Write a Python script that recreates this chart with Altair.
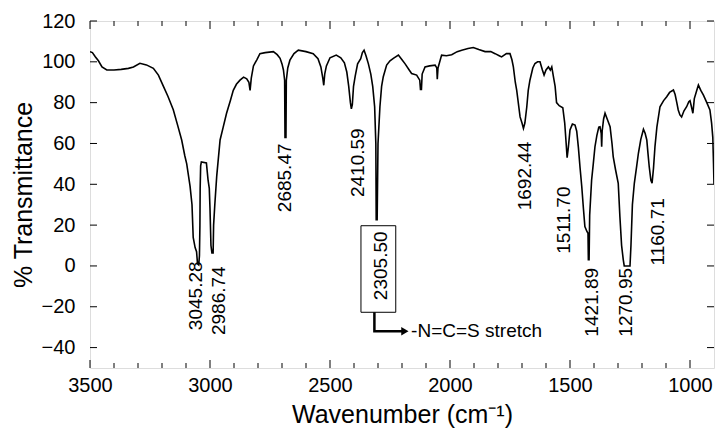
import altair as alt
import pandas as pd

# ---- spectrum ----
wavenumber = [3500, 3490, 3478, 3465, 3450, 3430, 3400, 3370, 3340, 3319, 3292, 3265, 3236, 3215, 3194, 3175,
              3153, 3135, 3118, 3105, 3097, 3083, 3075, 3070, 3062, 3056, 3052, 3047, 3044, 3042, 3041, 3039,
              3036, 3015, 3008, 3003, 3000, 2996, 2992, 2987, 2985, 2980, 2972, 2958, 2945, 2931, 2915, 2903,
              2890, 2875, 2860, 2847, 2838, 2833, 2828, 2819, 2805, 2792, 2770, 2736, 2720, 2708, 2700, 2694,
              2689, 2687.5, 2683.5, 2682, 2676, 2667, 2650, 2632, 2600, 2570, 2550, 2538, 2530, 2526, 2522, 2515,
              2500, 2474, 2455, 2440, 2430, 2422, 2415, 2411, 2407, 2402, 2395, 2385, 2372, 2365, 2358, 2350,
              2340, 2330, 2322, 2314, 2309, 2307.5, 2303.5, 2300, 2292, 2285, 2278, 2264, 2250, 2236, 2215, 2200,
              2187, 2170, 2160, 2139, 2126, 2123, 2119, 2116, 2104, 2085, 2062, 2055, 2053, 2050, 2035, 2015,
              1993, 1970, 1951, 1925, 1903, 1880, 1854, 1830, 1812, 1795, 1785, 1765, 1750, 1742, 1736, 1728,
              1722, 1708, 1700, 1694, 1688, 1680, 1674, 1667, 1655, 1646, 1635, 1625, 1615, 1608, 1600, 1590,
              1582, 1576, 1568, 1562, 1556, 1545, 1530, 1522, 1516, 1512, 1507, 1500, 1490, 1479, 1472, 1465,
              1458, 1451, 1444, 1438, 1430, 1425, 1423.5, 1420.5, 1418, 1410, 1403, 1396, 1388, 1380, 1375, 1370,
              1368, 1366, 1360, 1354, 1345, 1333, 1325, 1320, 1310, 1299, 1292, 1285, 1278, 1274, 1250, 1246,
              1240, 1232, 1222, 1215, 1205, 1194, 1187, 1180, 1175, 1170, 1163, 1158, 1152, 1146, 1138, 1125,
              1110, 1097, 1085, 1069, 1062, 1055, 1049, 1042, 1035, 1025, 1014, 1005, 1000, 994, 988, 982,
              972, 965, 955, 944, 930, 917, 910, 905, 902, 900]
transmittance = [105, 104.5, 102.5, 100.5, 97.5, 96, 96, 96.3, 96.8, 97.5, 99.3, 98.5, 96.8, 93.5, 88, 83,
                 76.5, 69, 61.7, 54, 50, 39, 30, 14, 9, 7, 1, 0.5, 5, 20, 38, 49,
                 51, 50.5, 42, 38, 28, 10, 6.4, 6.4, 20, 30, 44, 61.7, 68, 74.8, 81, 86,
                 89, 91, 92.5, 91.7, 90, 86, 92, 98, 101, 104, 104.5, 105, 103.5, 101.7, 99, 96,
                 91, 63, 63, 91, 97, 100.8, 104, 105.7, 105, 104, 101.5, 97.5, 92, 88.5, 94, 98,
                 102, 103.3, 102, 99.5, 95, 88, 80, 77, 79, 88, 93, 99, 101.5, 104.5, 105.7, 103,
                 99, 94, 88, 78, 60, 22.6, 22.6, 60, 78, 88, 92.7, 98.4, 100.5, 101.7, 103.3, 101,
                 99, 96, 94.3, 93.5, 91, 86.5, 86.5, 94, 97.5, 98, 98.4, 97, 91.5, 97, 103.3, 103,
                 103.5, 105, 105.7, 106.5, 107, 106, 105, 105, 104, 103, 102.4, 104, 104, 101, 97.5, 90,
                 86, 73, 70, 67.4, 70, 78, 86, 91, 97, 99.2, 100, 100, 96, 93.5, 96, 97.5,
                 96, 97.5, 92, 88, 80, 78.5, 77.5, 70, 60, 53, 58, 66.6, 69.5, 69, 66, 58,
                 48, 38.9, 28, 19.3, 17, 16, 3, 3, 25, 42, 50, 58.4, 64, 68, 68.2, 65,
                 58.4, 66, 72, 74.8, 72, 68.2, 60, 53.6, 47, 40.5, 24, 10, 3, 0, 0, 10,
                 30, 40.5, 49, 55.2, 62, 67, 65, 61.7, 55, 48.7, 42, 40.5, 48, 58.4, 68, 78,
                 81, 82.9, 85, 86.2, 84, 80, 76.4, 74, 73, 76, 78, 80.5, 81, 78, 74.8, 82,
                 86, 88.6, 86, 83.7, 80, 76.4, 70, 63, 50, 40]

# ---- peak labels ----
peak_labels = ["3045.28", "2986.74", "2685.47", "2410.59", "1692.44", "1511.70", "1421.89", "1270.95", "1160.71"]
peak_label_wn = [3060, 2964, 2687.5, 2382, 1687.5, 1527, 1407, 1268, 1132]
peak_label_top = [2.2, -0.2, 60, 67.4, 60.9, 38.9, -1, -1, 33.2]

boxed_label = ["2305.50"]
boxed_label_wn = [2285.5]
boxed_label_top = [16.9]
box_wn = [2371, 2226]
box_t = [19.7, -22.7]

arrow_wn = [2315, 2315, 2192]
arrow_t = [-22.7, -32, -32]
arrow_tip_wn = [2188]
note_text = ["-N=C=S stretch"]
note_wn = [2162]
note_t = [-32]

# ---- axis ticks ----
x_tick_labels = [3500, 3000, 2500, 2000, 1500, 1000]
x_minor = [3400, 3300, 3200, 3100, 2900, 2800, 2700, 2600, 2400, 2300, 2200, 2100,
           1900, 1800, 1700, 1600, 1400, 1300, 1200, 1100]
y_tick_labels = [-40, -20, 0, 20, 40, 60, 80, 100, 120]

FONT = "Liberation Sans"
W, H = 624, 347

xs = alt.Scale(domain=[900, 3500], reverse=True, nice=False, zero=False)
ys = alt.Scale(domain=[-50, 120], nice=False, zero=False)

spec_df = pd.DataFrame({"wn": wavenumber, "T": transmittance, "i": range(len(wavenumber))})

curve = alt.Chart(spec_df).mark_line(color="black", strokeWidth=1.6, clip=True).encode(
    x=alt.X("wn:Q", scale=xs,
            axis=alt.Axis(values=x_tick_labels, title="Wavenumber (cm⁻¹)", grid=False, ticks=False,
                          tickSize=0, domain=False, labelFont=FONT, labelFontSize=20, labelColor="black",
                          labelPadding=7, labelFlush=False, labelOverlap=False,
                          titleFont=FONT, titleFontSize=25, titleFontWeight="normal",
                          titleColor="black", titlePadding=7, format="d")),
    y=alt.Y("T:Q", scale=ys,
            axis=alt.Axis(values=y_tick_labels, title="% Transmittance", grid=False, ticks=False,
                          tickSize=0, domain=False, labelFont=FONT, labelFontSize=20, labelColor="black",
                          labelPadding=15, labelFlush=False, labelOverlap=False,
                          titleFont=FONT, titleFontSize=25, titleFontWeight="normal",
                          titleColor="black", titlePadding=5)),
    order="i:Q",
)

xmaj = pd.DataFrame({"v": x_tick_labels})
xmin = pd.DataFrame({"v": x_minor})
ymaj = pd.DataFrame({"v": y_tick_labels})

def xt(df, y0, y1):
    return alt.Chart(df).mark_rule(color="black", strokeWidth=1).encode(
        x=alt.X("v:Q", scale=xs), y=alt.value(y0), y2=alt.value(y1))

def yt(df, x0, x1):
    return alt.Chart(df).mark_rule(color="black", strokeWidth=1).encode(
        y=alt.Y("v:Q", scale=ys), x=alt.value(x0), x2=alt.value(x1))

ticks = [xt(xmaj, H, H - 8), xt(xmin, H, H - 5), xt(xmaj, 0, 8), xt(xmin, 0, 5),
         yt(ymaj, 0, 7), yt(ymaj, W, W - 7)]

lab_df = pd.DataFrame({"t": peak_labels, "wn": peak_label_wn, "T": peak_label_top})
labels = alt.Chart(lab_df).mark_text(angle=270, align="right", baseline="middle", font=FONT,
                                     fontSize=19, color="black").encode(
    x=alt.X("wn:Q", scale=xs), y=alt.Y("T:Q", scale=ys), text="t:N")

blab_df = pd.DataFrame({"t": boxed_label, "wn": boxed_label_wn, "T": boxed_label_top})
blabel = alt.Chart(blab_df).mark_text(angle=270, align="right", baseline="middle", font=FONT,
                                      fontSize=19, color="black").encode(
    x=alt.X("wn:Q", scale=xs), y=alt.Y("T:Q", scale=ys), text="t:N")

box_df = pd.DataFrame({"x1": [box_wn[0]], "x2": [box_wn[1]], "y1": [box_t[0]], "y2": [box_t[1]]})
box = alt.Chart(box_df).mark_rect(fill=None, fillOpacity=0, stroke="black", strokeWidth=1).encode(
    x=alt.X("x1:Q", scale=xs), x2="x2:Q", y=alt.Y("y1:Q", scale=ys), y2="y2:Q")

arr_df = pd.DataFrame({"wn": arrow_wn, "T": arrow_t, "i": range(len(arrow_wn))})
arrow = alt.Chart(arr_df).mark_line(color="black", strokeWidth=2.5).encode(
    x=alt.X("wn:Q", scale=xs), y=alt.Y("T:Q", scale=ys), order="i:Q")

tip_df = pd.DataFrame({"wn": arrow_tip_wn, "T": [arrow_t[-1]]})
tip = alt.Chart(tip_df).mark_point(shape="triangle-right", filled=True, color="black", size=70,
                                   opacity=1).encode(
    x=alt.X("wn:Q", scale=xs), y=alt.Y("T:Q", scale=ys))

note_df = pd.DataFrame({"t": note_text, "wn": note_wn, "T": note_t})
note = alt.Chart(note_df).mark_text(align="left", baseline="middle", font=FONT, fontSize=19,
                                    color="black").encode(
    x=alt.X("wn:Q", scale=xs), y=alt.Y("T:Q", scale=ys), text="t:N")

chart = alt.layer(curve, *ticks, labels, box, blabel, arrow, tip, note).properties(
    width=W, height=H,
    autosize=alt.AutoSizeParams(type="none"),
    padding={"left": 90, "top": 21, "right": 2, "bottom": 64},
).configure_view(stroke="black", strokeWidth=1).configure(background="white")

chart.save("out.html", embed_options={"renderer": "svg", "actions": False})
